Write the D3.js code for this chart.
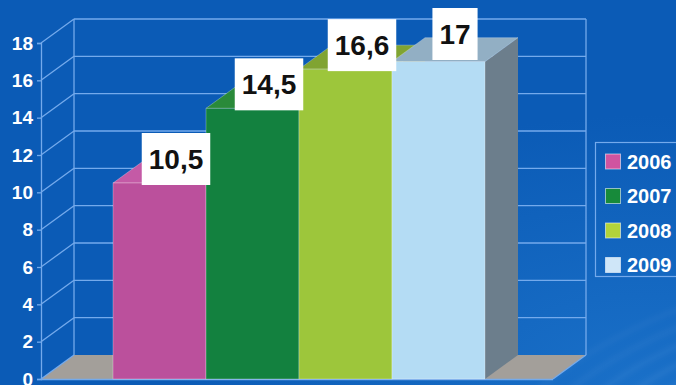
<!DOCTYPE html>
<html>
<head>
<meta charset="utf-8">
<script src="https://cdn.jsdelivr.net/npm/d3@7"></script>
<style>
  html, body { margin: 0; padding: 0; background: #0b5bb6; }
  svg { display: block; }
  text { font-family: "Liberation Sans", Arial, sans-serif; font-weight: bold; }
</style>
</head>
<body>
<svg id="chart" width="676" height="385"></svg>
<script>
// Yearly values, one bar per year
const years = ["2006", "2007", "2008", "2009"];
const values = [10.5, 14.5, 16.6, 17];
const yTicks = [0, 2, 4, 6, 8, 10, 12, 14, 16, 18];

// Face colours per bar: front, top, side
const frontColors = ["#bb509c", "#13813f", "#9dc63b", "#b4dcf4"];
const topColors   = ["#c45aa6", "#2a8a3a", "#80a432", "#92afc4"];
const sideColors  = ["#8e3a76", "#0d5f2d", "#6f8f2a", "#6c7e8c"];
const legendColors = ["#cf54a0", "#178a3a", "#b2d33a", "#cfe6f8"];

const W = 676, H = 385;
const svg = d3.select("#chart");

// 3D depth offset of the plot box
const dx = 33, dy = -24;
const gridColor = "#74aaec";

const y = d3.scaleLinear().domain([0, 18]).range([379, 43]);
const x = d3.scaleBand().domain(years).range([113, 485]).padding(0);
const plotLeft = 41, plotRight = 553;

// Background with soft ripples in the lower right
const defs = svg.append("defs");
const bg = defs.append("radialGradient").attr("id", "bgGrad")
  .attr("cx", "0.95").attr("cy", "1.0").attr("r", "0.7");
bg.append("stop").attr("offset", "0").attr("stop-color", "#1a70c8");
bg.append("stop").attr("offset", "1").attr("stop-color", "#0b5bb6");
defs.append("filter").attr("id", "soft")
  .append("feGaussianBlur").attr("stdDeviation", 2.5);

svg.append("rect").attr("width", W).attr("height", H).attr("fill", "url(#bgGrad)");

const ripples = svg.append("g").attr("filter", "url(#soft)")
  .attr("fill", "none").attr("stroke", "#ffffff");
[120, 150, 180, 210, 240].forEach((r, i) => {
  ripples.append("ellipse")
    .attr("cx", 760).attr("cy", 420)
    .attr("rx", r * 1.25).attr("ry", r * 0.55)
    .attr("transform", "rotate(-18 760 420)")
    .attr("stroke-width", 4)
    .attr("stroke-opacity", 0.07 - i * 0.008);
});

// Floor
const floor = svg.append("g");
floor.append("path")
  .attr("d", `M${plotLeft},${y(0)} L${plotRight},${y(0)} L${plotRight + dx},${y(0) + dy} L${plotLeft + dx},${y(0) + dy} Z`)
  .attr("fill", "#a39f9a");

// Back wall grid lines and left side diagonals
const grid = svg.append("g").attr("stroke", gridColor).attr("stroke-width", 1.3).attr("fill", "none");
yTicks.forEach(t => {
  if (t > 0) {
    grid.append("line")
      .attr("x1", plotLeft + dx).attr("x2", plotRight + dx)
      .attr("y1", y(t) + dy).attr("y2", y(t) + dy);
  }
  grid.append("line")
    .attr("x1", plotLeft).attr("y1", y(t))
    .attr("x2", plotLeft + dx).attr("y2", y(t) + dy);
});
grid.append("line")
  .attr("x1", plotLeft + dx).attr("x2", plotLeft + dx)
  .attr("y1", y(18) + dy).attr("y2", y(0) + dy);
grid.append("line")
  .attr("x1", plotRight + dx).attr("x2", plotRight + dx)
  .attr("y1", y(18) + dy).attr("y2", y(0) + dy);
grid.append("line")
  .attr("x1", plotRight).attr("y1", y(0))
  .attr("x2", plotRight + dx).attr("y2", y(0) + dy);
grid.append("line")
  .attr("x1", plotLeft).attr("x2", plotRight)
  .attr("y1", y(0) + 0.5).attr("y2", y(0) + 0.5);

// Bars: side, top and front faces
const bw = x.bandwidth();
const bars = svg.append("g");
years.forEach((yr, i) => {
  const x0 = x(yr), x1 = x0 + bw, yt = y(values[i]), yb = y(0);
  const g = bars.append("g");
  g.append("path")
    .attr("d", `M${x1},${yb} L${x1 + dx},${yb + dy} L${x1 + dx},${yt + dy} L${x1},${yt} Z`)
    .attr("fill", sideColors[i]);
  g.append("path")
    .attr("d", `M${x0},${yt} L${x1},${yt} L${x1 + dx},${yt + dy} L${x0 + dx},${yt + dy} Z`)
    .attr("fill", topColors[i])
    .attr("stroke", "rgba(255,255,255,0.35)").attr("stroke-width", 0.8);
  g.append("rect")
    .attr("x", x0).attr("y", yt).attr("width", bw).attr("height", yb - yt)
    .attr("fill", frontColors[i])
    .attr("stroke", "rgba(255,255,255,0.35)").attr("stroke-width", 0.8);
});

// Value axis on the front left edge
const axis = svg.append("g")
  .attr("transform", `translate(${plotLeft},0)`)
  .call(d3.axisLeft(y).tickValues(yTicks).tickSize(4).tickPadding(4));
axis.select(".domain").attr("stroke", gridColor).attr("stroke-width", 1.3);
axis.selectAll(".tick line").attr("stroke", gridColor).attr("stroke-width", 1.3);
axis.selectAll(".tick text")
  .attr("fill", "#ffffff")
  .style("font-size", "19px")
  .style("font-family", "'Liberation Sans', Arial, sans-serif")
  .style("font-weight", "bold");

// Value labels in white boxes above each bar
const fmt = v => String(v).replace(".", ",");
const labelsG = svg.append("g");
years.forEach((yr, i) => {
  const cx = x(yr) + bw / 2 + dx / 2;
  let bottom = y(values[i]) + 2;
  let top = bottom - 52;
  if (top < y(18) + dy) top = 8;
  const g = labelsG.append("g");
  const box = g.append("rect").attr("fill", "#ffffff");
  const t = g.append("text")
    .attr("x", cx).attr("y", top + 36)
    .attr("text-anchor", "middle")
    .attr("fill", "#111111")
    .style("font-size", "28px")
    .text(fmt(values[i]));
  const tw = t.node().getComputedTextLength();
  box.attr("x", cx - tw / 2 - 7).attr("y", top)
    .attr("width", tw + 14).attr("height", 52);
});

// Legend
const legend = svg.append("g");
legend.append("rect")
  .attr("x", 595.5).attr("y", 142.5).attr("width", 100).attr("height", 134)
  .attr("fill", "none").attr("stroke", gridColor).attr("stroke-width", 1.2);
years.forEach((yr, i) => {
  const cy = 161.5 + i * 34.5;
  legend.append("rect")
    .attr("x", 605.5).attr("y", cy - 7.5).attr("width", 15).attr("height", 15)
    .attr("fill", legendColors[i])
    .attr("stroke", "rgba(255,255,255,0.55)").attr("stroke-width", 1);
  legend.append("text")
    .attr("x", 627).attr("y", cy + 7)
    .attr("fill", "#ffffff")
    .style("font-size", "20px")
    .text(yr);
});
</script>
</body>
</html>
